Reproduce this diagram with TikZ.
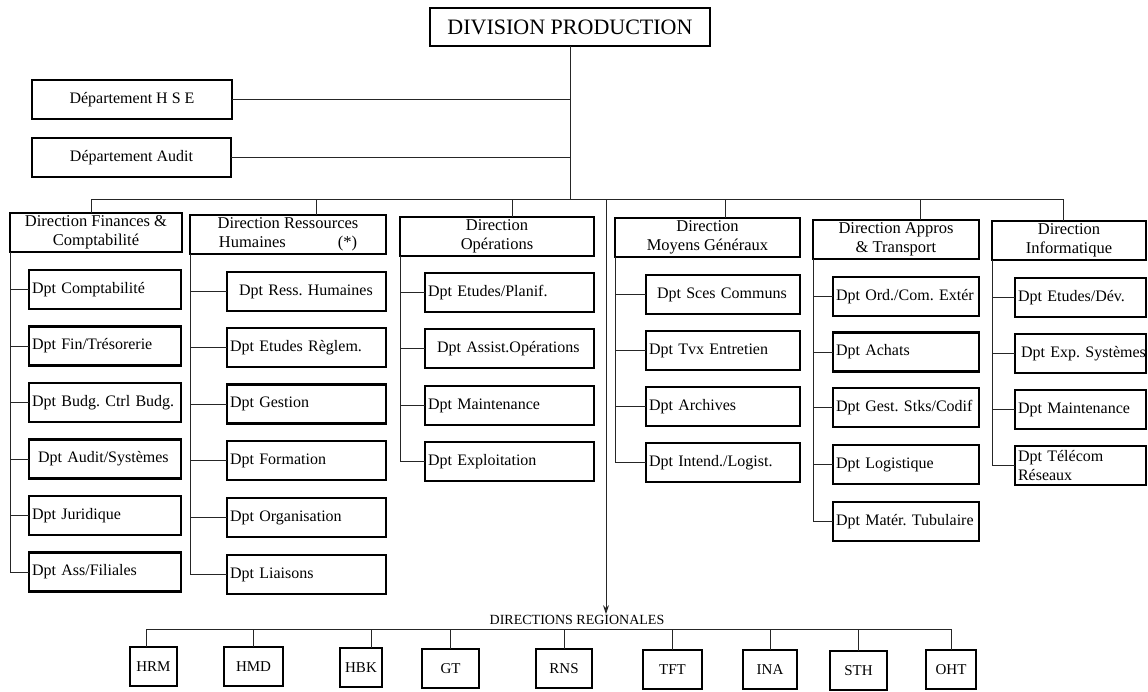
\documentclass[tikz,border=0pt]{standalone}
\usepackage{fontspec}
\setmainfont{Liberation Serif}
\usetikzlibrary{arrows.meta}
\tikzset{
  bx/.style={draw, line width=2.6pt, rectangle, inner xsep=3pt, inner ysep=0pt, outer sep=0pt,
    anchor=north west, minimum height=39pt, font=\fontsize{16}{19}\selectfont},
  dirbox/.style={bx, align=center, font=\fontsize{16.5}{19.5}\selectfont},
  conn/.style={line width=0.9pt, draw=black!85},
  colF/.style={bx, align=left, minimum width=152pt, text width=146pt},
  colH/.style={bx, align=left, minimum width=159pt, text width=153pt},
  colO/.style={bx, align=left, minimum width=169pt, text width=163pt},
  colM/.style={bx, align=left, minimum width=154pt, text width=148pt},
  colA/.style={bx, align=left, minimum width=146pt, text width=140pt},
  colI/.style={bx, align=left, minimum width=131pt, text width=125pt},
  regbox/.style={bx, align=center, inner xsep=0pt, font=\fontsize{15}{18}\selectfont}
}
\begin{document}
\frenchspacing
\begin{tikzpicture}[x=1pt,y=-1pt]
\useasboundingbox (0,0) rectangle (1148,691);

% top levels
\node[bx, align=center, minimum width=280pt, minimum height=38pt, font=\fontsize{22}{25}\selectfont] (top) at (430,8) {DIVISION PRODUCTION};
\node[bx, align=center, minimum width=200pt] (hse) at (32,80) {Département H S E};
\node[bx, align=center, minimum width=199pt] (aud) at (32,138) {Département Audit};

% directions
\node[dirbox, minimum width=172pt] (dfin) at (10,213) {Direction Finances \&\\Comptabilité};
\node[dirbox, minimum width=196pt] (drh) at (190,215) {Direction Ressources\\Humaines\hspace{52pt}(*)};
\node[dirbox, minimum width=194pt] (dops) at (400,217) {Direction\\Opérations};
\node[dirbox, minimum width=185pt] (dmg) at (615,218) {Direction\\Moyens Généraux};
\node[dirbox, minimum width=166pt] (dapp) at (813,220) {Direction Appros\\\& Transport};
\node[dirbox, minimum width=154pt] (dinf) at (992,221) {Direction\\Informatique};

% bus coordinates
\coordinate (b1) at (91,199);
\coordinate (b2) at (316,199);
\coordinate (b3) at (512,199);
\coordinate (ba) at (606,199);
\coordinate (b4) at (725,199);
\coordinate (b5) at (920,199);
\coordinate (b6) at (1063,199);

\draw[conn] (top.south) -- (top.south |- b1);
\draw[conn] (hse.east) -- (hse.east -| top.south);
\draw[conn] (aud.east) -- (aud.east -| top.south);
\draw[conn] (b1) -- (b6);
\draw[conn] (b1) -- (b1 |- dfin.north);
\draw[conn] (b2) -- (b2 |- drh.north);
\draw[conn] (b3) -- (b3 |- dops.north);
\draw[conn] (b4) -- (b4 |- dmg.north);
\draw[conn] (b5) -- (b5 |- dapp.north);
\draw[conn] (b6) -- (b6 |- dinf.north);

% Finance column
\node[colF] (f1) at (29,270) {\mbox{Dpt Comptabilité}};
\node[colF] (f2) at (29,326.5) {\mbox{Dpt Fin/Trésorerie}};
\node[colF] (f3) at (29,383) {\mbox{Dpt Budg. Ctrl Budg.}};
\node[colF] (f4) at (29,439.5) {\mbox{\hspace*{6pt}Dpt Audit/Systèmes}};
\node[colF] (f5) at (29,496) {\mbox{Dpt Juridique}};
\node[colF] (f6) at (29,552.5) {\mbox{Dpt Ass/Filiales}};
\draw[conn] (dfin.south west) |- (f6.west);
\foreach \n in {f1,f2,f3,f4,f5} \draw[conn] (\n.west) -- (\n.west -| dfin.south west);

% RH column
\node[colH] (h1) at (227,272) {\mbox{\hspace*{9pt}Dpt Ress. Humaines}};
\node[colH] (h2) at (227,328) {\mbox{Dpt Etudes Règlem.}};
\node[colH] (h3) at (227,384.5) {\mbox{Dpt Gestion}};
\node[colH] (h4) at (227,441) {\mbox{Dpt Formation}};
\node[colH] (h5) at (227,498) {\mbox{Dpt Organisation}};
\node[colH] (h6) at (227,555) {\mbox{Dpt Liaisons}};
\draw[conn] (drh.south west) |- (h6.west);
\foreach \n in {h1,h2,h3,h4,h5} \draw[conn] (\n.west) -- (\n.west -| drh.south west);

% Operations column
\node[colO] (o1) at (425,273) {\mbox{Dpt Etudes/Planif.}};
\node[colO] (o2) at (425,329) {\mbox{\hspace*{9pt}Dpt Assist.Opérations}};
\node[colO] (o3) at (425,386) {\mbox{Dpt Maintenance}};
\node[colO] (o4) at (425,442) {\mbox{Dpt Exploitation}};
\draw[conn] (dops.south west) |- (o4.west);
\foreach \n in {o1,o2,o3} \draw[conn] (\n.west) -- (\n.west -| dops.south west);

% Moyens Generaux column
\node[colM] (m1) at (646,275) {\mbox{\hspace*{8pt}Dpt Sces Communs}};
\node[colM] (m2) at (646,331) {\mbox{Dpt Tvx Entretien}};
\node[colM] (m3) at (646,387) {\mbox{Dpt Archives}};
\node[colM] (m4) at (646,443) {\mbox{Dpt Intend./Logist.}};
\draw[conn] (dmg.south west) |- (m4.west);
\foreach \n in {m1,m2,m3} \draw[conn] (\n.west) -- (\n.west -| dmg.south west);

% Appros column
\node[colA] (a1) at (833,277) {\mbox{Dpt Ord./Com. Extér}};
\node[colA] (a2) at (833,332.5) {\mbox{Dpt Achats}};
\node[colA] (a3) at (833,388) {\mbox{Dpt Gest. Stks/Codif}};
\node[colA] (a4) at (833,445) {\mbox{Dpt Logistique}};
\node[colA] (a5) at (833,502) {\mbox{Dpt Matér. Tubulaire}};
\draw[conn] (dapp.south west) |- (a5.west);
\foreach \n in {a1,a2,a3,a4} \draw[conn] (\n.west) -- (\n.west -| dapp.south west);

% Informatique column
\node[colI] (i1) at (1015,278) {\mbox{Dpt Etudes/Dév.}};
\node[colI] (i2) at (1015,334) {\mbox{\hspace*{3pt}Dpt Exp. Systèmes}};
\node[colI] (i3) at (1015,390) {\mbox{Dpt Maintenance}};
\node[colI] (i4) at (1015,446) {Dpt Télécom\\Réseaux};
\draw[conn] (dinf.south west) |- (i4.west);
\foreach \n in {i1,i2,i3} \draw[conn] (\n.west) -- (\n.west -| dinf.south west);

% Regional directions
\node[font=\fontsize{14}{16}\selectfont, inner sep=1pt] (reg) at (577,620) {DIRECTIONS REGIONALES};
\draw[conn, -{Stealth[length=9pt,width=6pt]}] (ba) -- (ba |- reg.north);

\coordinate (rb) at (0,629);
\node[regbox, minimum width=47pt] (hrm) at (130,647) {HRM};
\node[regbox, minimum width=59pt] (hmd) at (224,647) {HMD};
\node[regbox, minimum width=42pt] (hbk) at (340,648) {HBK};
\node[regbox, minimum width=57pt] (gt) at (422,649) {GT};
\node[regbox, minimum width=56pt] (rns) at (536,649) {RNS};
\node[regbox, minimum width=59pt] (tft) at (643,650) {TFT};
\node[regbox, minimum width=54pt] (ina) at (743,650) {INA};
\node[regbox, minimum width=57pt] (sth) at (830,651) {STH};
\node[regbox, minimum width=50pt] (oht) at (926,650) {OHT};

\draw[conn] ([xshift=-7pt]hrm.north |- rb) -- (oht.north |- rb);
\draw[conn] ([xshift=-7pt]hrm.north) -- ([xshift=-7pt]hrm.north |- rb);
\draw[conn] ([xshift=10pt]hbk.north) -- ([xshift=10pt]hbk.north |- rb);
\foreach \n in {hmd,gt,rns,tft,ina,sth,oht} \draw[conn] (\n.north) -- (\n.north |- rb);
\end{tikzpicture}
\end{document}
